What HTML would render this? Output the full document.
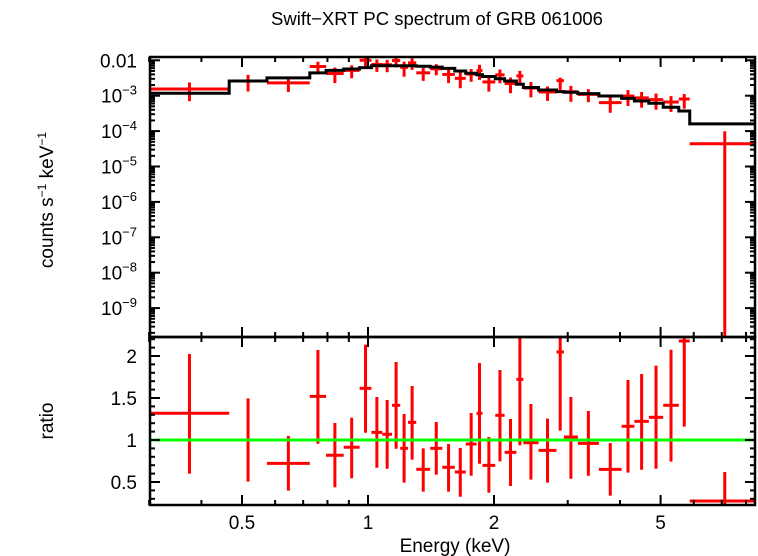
<!DOCTYPE html>
<html><head><meta charset="utf-8"><style>
html,body{margin:0;padding:0;background:#fff;}
svg{display:block;font-family:"Liberation Sans",sans-serif;}
</style></head><body>
<svg id="chart" width="758" height="556" viewBox="0 0 758 556" xmlns="http://www.w3.org/2000/svg">
<text x="437" y="25" text-anchor="middle" font-size="18.5">Swift−XRT PC spectrum of GRB 061006</text>
<text transform="translate(53,200) rotate(-90)" text-anchor="middle" font-size="19">counts s<tspan font-size="12" dy="-7">−1</tspan><tspan dy="7"> keV</tspan><tspan font-size="12" dy="-7">−1</tspan></text>
<text transform="translate(53,421) rotate(-90)" text-anchor="middle" font-size="19">ratio</text>
<text x="455" y="552" text-anchor="middle" font-size="19">Energy (keV)</text>
<g id="g"></g>
</svg>
<script>
// Bin edges in keV
const binLo=[0.301,0.466,0.5735,0.726,0.794,0.875,0.955,1.019,1.082,1.141,1.194,1.246,1.304,1.408,1.505,1.612,1.712,1.817,1.877,2.014,2.120,2.262,2.350,2.555,2.820,2.938,3.172,3.561,4.035,4.329,4.687,5.073,5.527,5.869];
const binHi=[0.466,0.5735,0.726,0.794,0.875,0.955,1.019,1.082,1.141,1.194,1.246,1.304,1.408,1.505,1.612,1.712,1.817,1.877,2.014,2.120,2.262,2.350,2.555,2.820,2.938,3.172,3.561,4.035,4.329,4.687,5.073,5.527,5.869,8.63];
// Folded model (counts/s/keV)
const model=[1.17e-3,2.6e-3,3.2e-3,4.4e-3,5.2e-3,5.7e-3,6.2e-3,7.0e-3,7.0e-3,7.0e-3,7.0e-3,7.0e-3,6.8e-3,6.4e-3,5.9e-3,5.0e-3,4.3e-3,3.9e-3,3.5e-3,3.0e-3,2.6e-3,2.1e-3,1.7e-3,1.45e-3,1.30e-3,1.25e-3,1.14e-3,9.8e-4,8.4e-4,7.1e-4,6.1e-4,4.7e-4,3.7e-4,1.6e-4];
// Data/model ratio and error bounds
const ratio=[1.318,1.0,0.722,1.520,0.818,0.913,1.615,1.091,1.068,1.413,0.901,1.210,0.651,0.901,0.675,0.619,0.952,1.318,0.698,1.294,0.853,1.722,0.968,0.877,2.048,1.036,0.960,0.651,1.163,1.222,1.270,1.413,2.179,0.274];
const ratioLo=[0.599,0.504,0.397,0.956,0.437,0.544,1.087,0.670,0.658,0.896,0.492,0.766,0.385,0.587,0.385,0.325,0.575,0.718,0.373,0.746,0.452,0.937,0.528,0.492,1.111,0.539,0.575,0.337,0.611,0.646,0.658,0.742,1.159,0.0];
const ratioHi=[2.024,1.496,1.048,2.071,1.202,1.265,2.135,1.512,1.476,1.929,1.310,1.643,0.901,1.214,0.952,0.905,1.321,1.917,1.036,1.833,1.250,2.4,1.429,1.254,2.5,1.512,1.345,0.964,1.714,1.786,1.885,2.075,3.0,0.619];
const xTicksMajor=[0.5,1,2,5];
const xTickLabels=["0.5","1","2","5"];
const yTopDecades=[-2,-3,-4,-5,-6,-7,-8,-9];
const ratioTicks=[0.5,1,1.5,2];
const ratioTickLabels=["0.5","1","1.5","2"];

const L=150,R=755,T1=57,B1=337,T2=337,B2=505;
const ex=e=>368+418.6*Math.log10(e);
const yTop=v=>{let l=v>0?Math.log10(v):-20;let y=60.3+35.4*(-2-l);return Math.max(T1,Math.min(B1,y));};
const yR=r=>Math.max(T2,Math.min(B2,440-(r-1)*84));
const NS="http://www.w3.org/2000/svg";
const g=document.getElementById('g');
function el(tag,at){const e=document.createElementNS(NS,tag);for(const k in at)e.setAttribute(k,at[k]);g.appendChild(e);return e;}
function ln(x1,y1,x2,y2,c,w){return el('line',{x1,y1,x2,y2,stroke:c,'stroke-width':w});}
const cx=e=>Math.min(R,Math.max(L,ex(e)));

const defs=document.createElementNS(NS,'defs');
defs.innerHTML='<clipPath id="c1"><rect x="150" y="57" width="605" height="280"/></clipPath><clipPath id="c2"><rect x="150" y="337" width="605" height="168"/></clipPath>';
g.appendChild(defs);

for(let i=0;i<model.length;i++){
  const xc=ex(Math.sqrt(binLo[i]*binHi[i]));
  const x1=cx(binLo[i]),x2=cx(binHi[i]);
  const v=model[i]*ratio[i];
  let a=ln(x1,yTop(v),x2,yTop(v),'#ff0000',3);a.setAttribute('clip-path','url(#c1)');
  
  
  let b=ln(xc,yTop(model[i]*ratioLo[i]),xc,yTop(model[i]*ratioHi[i]),'#ff0000',3);b.setAttribute('clip-path','url(#c1)');
  
  
  let c=ln(x1,yR(ratio[i]),x2,yR(ratio[i]),'#ff0000',3);c.setAttribute('clip-path','url(#c2)');
  
  
  let e2=ln(xc,yR(ratioLo[i]),xc,yR(ratioHi[i]),'#ff0000',3);e2.setAttribute('clip-path','url(#c2)');
  
  
}

// Model step line
let d='';
for(let i=0;i<model.length;i++){const y=yTop(model[i]);d+=(i?'L':'M')+cx(binLo[i])+','+y+'L'+cx(binHi[i])+','+y;}
const mp=el('path',{d,fill:'none',stroke:'#000','stroke-width':3,'clip-path':'url(#c1)'});



// Green unity line
const gl=ln(L,yR(1),R,yR(1),'#00ff00',3);



for(const [t,b,n] of [[T1,B1,'top-panel-frame'],[T2,B2,'ratio-panel-frame']]){
  const r=el('rect',{x:L,y:t,width:R-L,height:b-t,fill:'none',stroke:'#000','stroke-width':2.5});
  
  
}
const minors=[0.3,0.4,0.6,0.7,0.8,0.9,3,4,6,7,8];
for(const [t,b] of [[T1,B1],[T2,B2]]){
  for(const m of xTicksMajor){const x=ex(m);ln(x,t,x,t+10,'#000',2);ln(x,b,x,b-10,'#000',2);}
  for(const m of minors){const x=ex(m);ln(x,t,x,t+5,'#000',2);ln(x,b,x,b-5,'#000',2);}
}
xTicksMajor.forEach((m,i)=>{const t=el('text',{x:ex(m),y:529,'text-anchor':'middle','font-size':19});t.textContent=xTickLabels[i];

});
for(const dd of yTopDecades){
  const y=yTop(Math.pow(10,dd));
  ln(L,y,L+10,y,'#000',2);ln(R,y,R-10,y,'#000',2);
  for(let k=2;k<=9;k++){const yy=yTop(k*Math.pow(10,dd));if(yy>T1&&yy<B1){ln(L,yy,L+5,yy,'#000',2);ln(R,yy,R-5,yy,'#000',2);}}
  const t=el('text',{x:137,y:y+7,'text-anchor':'end','font-size':19});
  if(dd===-2)t.textContent='0.01';else t.innerHTML='10<tspan font-size="13" dy="-8">−'+(-dd)+'</tspan>';
  
  
}
for(let k=2;k<=9;k++){const yy=yTop(k*1e-10);if(yy<B1){ln(L,yy,L+5,yy,'#000',2);ln(R,yy,R-5,yy,'#000',2);}}
for(let r=0.3;r<=2.21;r+=0.1){const y=yR(r);const maj=Math.abs(r*2-Math.round(r*2))<1e-6;const w=maj?10:5;ln(L,y,L+w,y,'#000',2);ln(R,y,R-w,y,'#000',2);}
ratioTicks.forEach((r,i)=>{const t=el('text',{x:137,y:yR(r)+7,'text-anchor':'end','font-size':19});t.textContent=ratioTickLabels[i];

});
</script>
</body></html>
